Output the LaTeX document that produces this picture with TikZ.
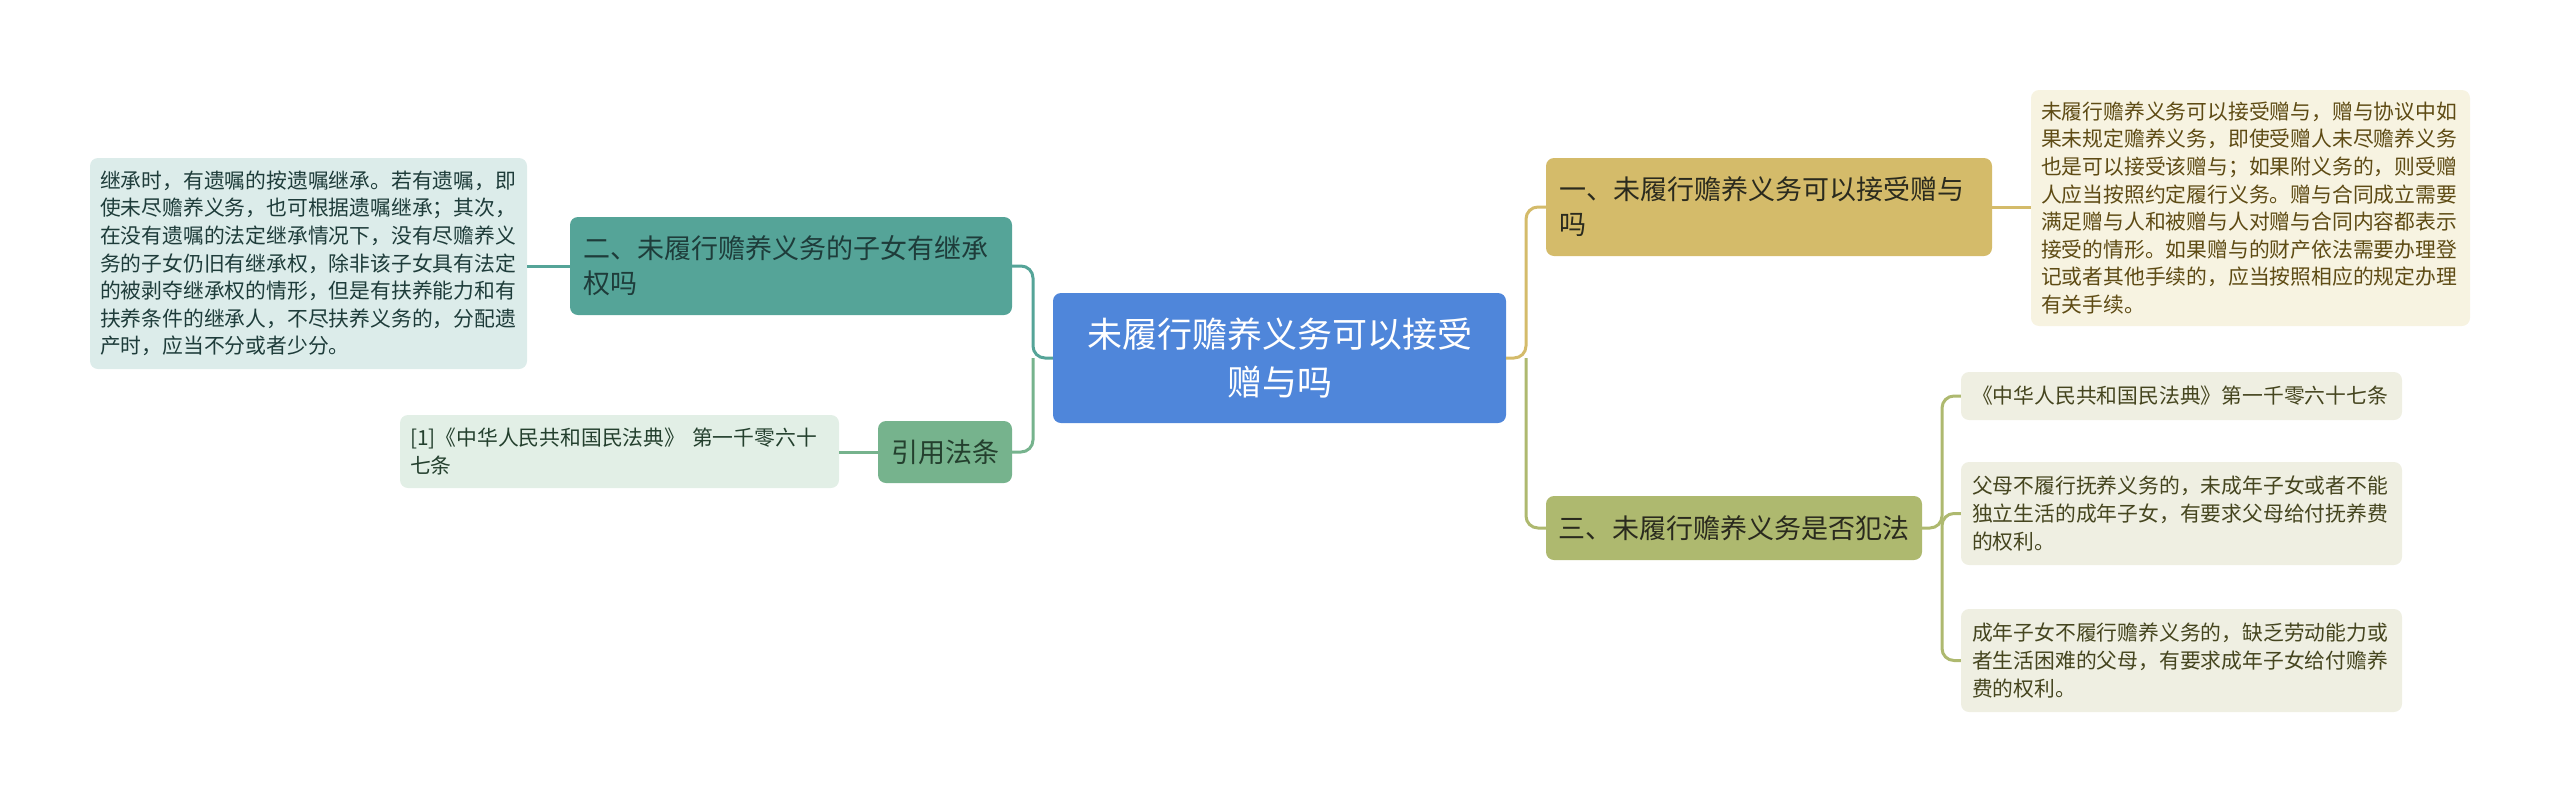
\documentclass[tikz,border=0pt]{standalone}
\usepackage{fontspec}
\newfontfamily\cjk{Noto Sans CJK SC}
\definecolor{cblue}{HTML}{4F86DA}
\definecolor{cyel}{HTML}{D4BB6A}
\definecolor{cteal}{HTML}{55A498}
\definecolor{cgreen}{HTML}{76B38D}
\definecolor{colive}{HTML}{AEB96F}
\definecolor{lyel}{HTML}{F7F3E1}
\definecolor{lteal}{HTML}{DCECEA}
\definecolor{lgreen}{HTML}{E2EFE6}
\definecolor{lolive}{HTML}{EFEFE2}
\definecolor{tyel}{HTML}{5E4B14}
\definecolor{tteal}{HTML}{1E3C3A}
\definecolor{tgreen}{HTML}{24402E}
\definecolor{tolive}{HTML}{45451F}
\definecolor{tdark}{HTML}{2A2A1E}
\tikzset{
  box/.style={rounded corners=8pt, inner xsep=0pt, inner ysep=0pt, font=\cjk},
  bigbox/.style={box, align=left, font=\cjk\fontsize{27}{35}\selectfont, text=tdark},
  leafbox/.style={box, align=left, font=\cjk\fontsize{20.8}{27.6}\selectfont},
  conn/.style={line width=3pt, rounded corners=12pt},
}
\begin{document}
\begin{tikzpicture}[x=1pt,y=-1pt]
\useasboundingbox (0,0) rectangle (2560,801);
% central
\node[box, fill=cblue, text=white, align=center, font=\cjk\fontsize{35}{48}\selectfont,
  text width=453pt, minimum height=130pt] (c) at (1279.5,358) {未履行赡养义务可以接受\\赠与吗};
% level 1
\node[bigbox, fill=cyel, text width=420pt, minimum width=446pt, minimum height=98pt] (n1) at (1769,207)
  {一、未履行赡养义务可以接受赠与\\吗};
\node[bigbox, fill=cteal, text=tteal, text width=416pt, minimum width=442pt, minimum height=98pt] (n2) at (791,266)
  {二、未履行赡养义务的子女有继承\\权吗};
\node[bigbox, fill=cgreen, text=tgreen, align=center, text width=134pt, minimum height=62pt] (n4) at (945,452)
  {引用法条};
\node[bigbox, fill=colive, text width=352pt, minimum width=376pt, minimum height=64pt] (n3) at (1734,528)
  {三、未履行赡养义务是否犯法};
% leaves
\node[leafbox, fill=lyel, text=tyel, text width=419pt, minimum width=439pt, minimum height=236pt] (l1) at (2250.5,208)
  {未履行赡养义务可以接受赠与，赠与协议中如\\果未规定赡养义务，即使受赠人未尽赡养义务\\也是可以接受该赠与；如果附义务的，则受赠\\人应当按照约定履行义务。赠与合同成立需要\\满足赠与人和被赠与人对赠与合同内容都表示\\接受的情形。如果赠与的财产依法需要办理登\\记或者其他手续的，应当按照相应的规定办理\\有关手续。};
\node[leafbox, fill=lteal, text=tteal, text width=417pt, minimum width=437pt, minimum height=211pt] (l2) at (308.5,263.5)
  {继承时，有遗嘱的按遗嘱继承。若有遗嘱，即\\使未尽赡养义务，也可根据遗嘱继承；其次，\\在没有遗嘱的法定继承情况下，没有尽赡养义\\务的子女仍旧有继承权，除非该子女具有法定\\的被剥夺继承权的情形，但是有扶养能力和有\\扶养条件的继承人，不尽扶养义务的，分配遗\\产时，应当不分或者少分。};
\node[leafbox, fill=lgreen, text=tgreen, text width=419pt, minimum width=439pt, minimum height=73pt] (l4) at (619.5,451.5)
  {[1]《中华人民共和国民法典》 第一千零六十\\七条};
\node[leafbox, fill=lolive, text=tolive, text width=419pt, minimum width=441pt, minimum height=48pt] (l3a) at (2181.5,396)
  {《中华人民共和国民法典》第一千零六十七条};
\node[leafbox, fill=lolive, text=tolive, text width=419pt, minimum width=441pt, minimum height=103pt] (l3b) at (2181.5,513.5)
  {父母不履行抚养义务的，未成年子女或者不能\\独立生活的成年子女，有要求父母给付抚养费\\的权利。};
\node[leafbox, fill=lolive, text=tolive, text width=419pt, minimum width=441pt, minimum height=103pt] (l3c) at (2181.5,660.5)
  {成年子女不履行赡养义务的，缺乏劳动能力或\\者生活困难的父母，有要求成年子女给付赡养\\费的权利。};
% junctions
\coordinate (jl) at (1033,358);
\coordinate (jr) at (1526,358);
\coordinate (j3) at (1942,528);
% connectors
\draw[conn, cteal] (c.west) -- (jl) |- (n2.east);
\draw[conn, cgreen] (jl) |- (n4.east);
\draw[conn, cyel] (c.east) -- (jr) |- (n1.west);
\draw[conn, colive] (jr) |- (n3.west);
\draw[conn, colive] (n3.east) -- (j3) |- (l3a.west);
\draw[conn, colive] (j3) |- (l3b.west);
\draw[conn, colive] (j3) |- (l3c.west);
\draw[conn, cyel] (n1.east) -- (l1.west |- n1.east);
\draw[conn, cteal] (n2.west) -- (l2.east |- n2.west);
\draw[conn, cgreen] (n4.west) -- (l4.east |- n4.west);
\end{tikzpicture}
\end{document}
